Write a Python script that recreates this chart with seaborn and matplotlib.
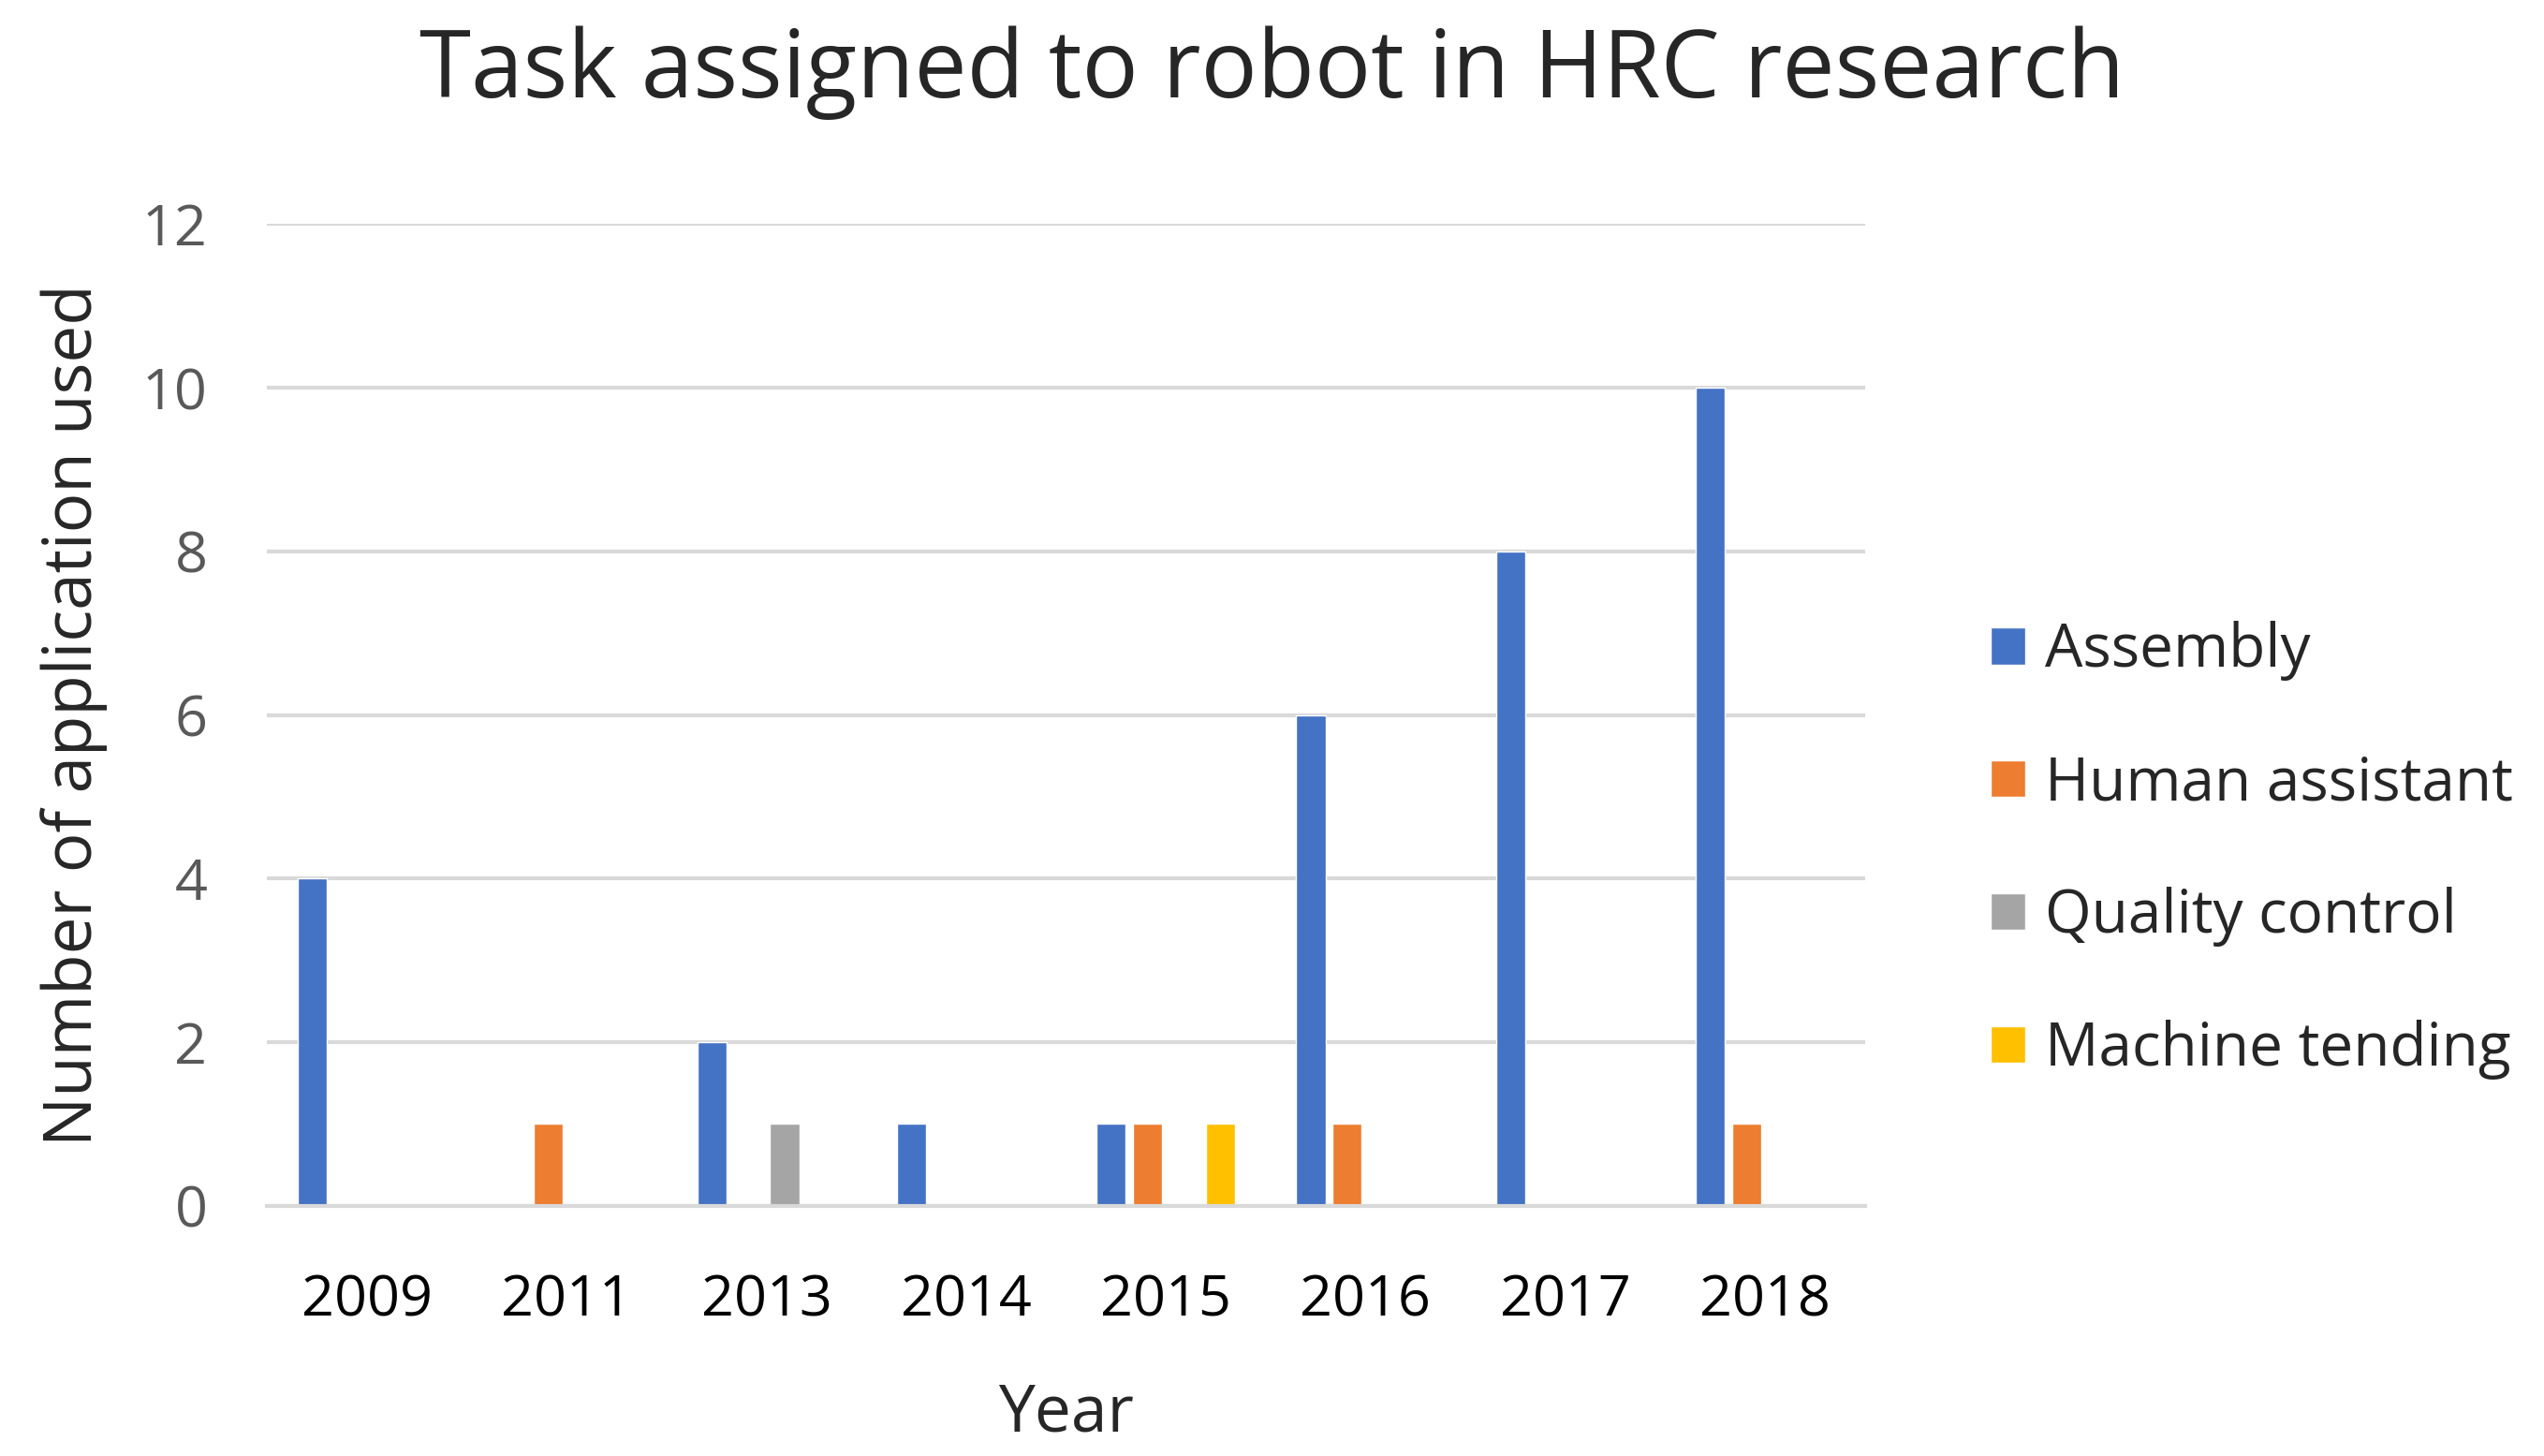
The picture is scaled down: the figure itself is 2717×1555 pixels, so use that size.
import seaborn as sns
import matplotlib.pyplot as plt
import pandas as pd

# Data
years = ['2009', '2011', '2013', '2014', '2015', '2016', '2017', '2018']
tasks = ['Assembly', 'Human assistant', 'Quality control', 'Machine tending']
assembly = [4, 0, 2, 1, 1, 6, 8, 10]
human_assistant = [0, 1, 0, 0, 1, 1, 0, 1]
quality_control = [0, 0, 1, 0, 0, 0, 0, 0]
machine_tending = [0, 0, 0, 0, 1, 0, 0, 0]
colors = ['#4472C4', '#ED7D31', '#A5A5A5', '#FFC000']

# Long format for seaborn
rows = []
for task, vals in zip(tasks, [assembly, human_assistant, quality_control, machine_tending]):
    for y, v in zip(years, vals):
        rows.append({'Year': y, 'Task': task, 'Count': v})
df = pd.DataFrame(rows)

sns.set_style('white')
plt.rcParams['font.family'] = ['Open Sans', 'DejaVu Sans']

fig = plt.figure(figsize=(27.17, 15.55), dpi=100)
ax = fig.add_axes([0.105, 0.172, 0.628, 0.674])

sns.barplot(data=df, x='Year', y='Count', hue='Task', order=years, hue_order=tasks,
            palette=colors, width=0.73, gap=0.2, saturation=1, ax=ax, errorbar=None)

ax.set_ylim(0, 12)
ax.set_yticks(range(0, 13, 2))
ax.yaxis.grid(True, color='#D9D9D9', linewidth=3)
ax.set_axisbelow(True)
for s in ['top', 'right', 'left']:
    ax.spines[s].set_visible(False)
ax.spines['bottom'].set_color('#D9D9D9')
ax.spines['bottom'].set_linewidth(3)
ax.tick_params(axis='y', labelsize=44, colors='#595959', length=0, pad=46)
ax.tick_params(axis='x', labelsize=44, colors='black', length=0, pad=52)

ax.set_xlabel('Year', fontsize=50, labelpad=40)
ax.set_ylabel('Number of application used', fontsize=51, labelpad=26)
fig.suptitle('Task assigned to robot in HRC research', fontsize=72, y=0.982)

leg = ax.legend(loc='center left', bbox_to_anchor=(1.045, 0.362), frameon=False,
                fontsize=46, handlelength=0.58, handleheight=0.58,
                labelspacing=1.22, handletextpad=0.33)

fig.savefig('out.png', dpi=100)
